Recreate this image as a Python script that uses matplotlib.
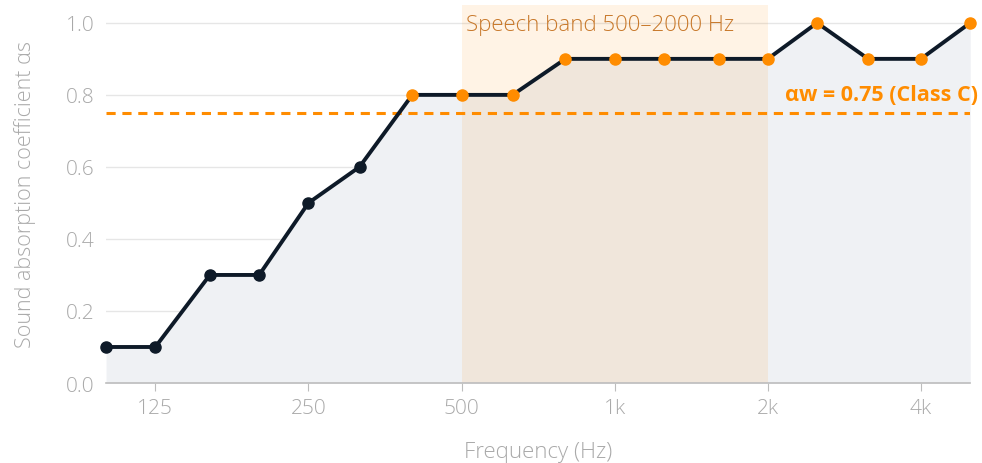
import matplotlib.pyplot as plt
import numpy as np

plt.rcParams['font.family'] = ['Open Sans', 'DejaVu Sans']

# third-octave band centres and absorption coefficients
freqs = [100, 125, 160, 200, 250, 315, 400, 500, 630, 800, 1000, 1250, 1600, 2000, 2500, 3150, 4000, 5000]
alpha = [0.1, 0.1, 0.3, 0.3, 0.5, 0.6, 0.8, 0.8, 0.8, 0.9, 0.9, 0.9, 0.9, 0.9, 1.0, 0.9, 0.9, 1.0]
tick_freqs = [125, 250, 500, 1000, 2000, 4000]
tick_labels = ['125', '250', '500', '1k', '2k', '4k']
alpha_w = 0.75
band = (500, 2000)

dark = '#0e1a28'
orange = '#ff8c00'
grey = '#a9a9a9'

fig = plt.figure(figsize=(9.82, 4.64), dpi=100)
ax = fig.add_axes([0.108, 0.1724, 0.88, 0.815])

ax.set_xscale('log')
ax.set_xlim(100, 5000)
ax.set_ylim(0, 1.05)

ax.fill_between(freqs, alpha, 0, color='#eff1f4', lw=0, zorder=1)
ax.axvspan(band[0], band[1], color=orange, alpha=0.1, lw=0, zorder=1.5)
ax.text(510, 0.995, 'Speech band 500\u20132000 Hz', color='#c8782a', fontsize=16,
        fontweight='light', va='center', ha='left', zorder=3)

ax.axhline(alpha_w, color=orange, lw=2.2, ls=(0, (3, 2.2)), zorder=2)
ax.text(5185, 0.8, '\u03b1w = 0.75 (Class C)', color=orange, fontsize=15.5,
        fontweight='bold', ha='right', va='center', zorder=3)

ax.plot(freqs, alpha, color=dark, lw=2.8, zorder=4, clip_on=False)
f = np.array(freqs)
a = np.array(alpha)
hi = f >= 400
ax.plot(f[~hi], a[~hi], 'o', color=dark, ms=8, zorder=5, clip_on=False)
ax.plot(f[hi], a[hi], 'o', color=orange, ms=8, zorder=5, clip_on=False)

ax.set_xticks(tick_freqs)
ax.set_xticklabels(tick_labels)
ax.minorticks_off()
ax.set_yticks(np.arange(0, 1.01, 0.2))
ax.set_yticklabels(['%.1f' % v for v in np.arange(0, 1.01, 0.2)])
ax.grid(axis='y', color='#e6e6e6', lw=1, zorder=0)
ax.set_axisbelow(True)

for s in ['top', 'right', 'left']:
    ax.spines[s].set_visible(False)
ax.spines['bottom'].set_color('#bdbdbd')
ax.spines['bottom'].set_linewidth(1.2)
ax.tick_params(axis='x', colors='#bdbdbd', labelcolor=grey, labelsize=15, length=6, pad=5)
ax.tick_params(axis='y', length=0, labelcolor=grey, labelsize=15, pad=8)
for lab in ax.get_xticklabels() + ax.get_yticklabels():
    lab.set_fontweight('light')

ax.set_xlabel('Frequency (Hz)', color=grey, fontsize=16, fontweight='light', labelpad=16)
ax.set_ylabel('Sound absorption coefficient \u03b1s', color=grey, fontsize=15.5,
              fontweight='light', labelpad=22)

fig.savefig('out.png', dpi=100)
